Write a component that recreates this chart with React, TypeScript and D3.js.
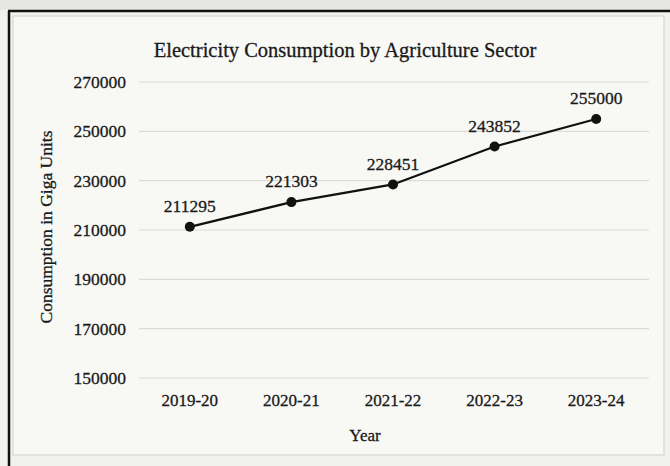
import React from "react";
import * as d3 from "d3";

const years = ["2019-20", "2020-21", "2021-22", "2022-23", "2023-24"];
const consumption = [211295, 221303, 228451, 243852, 255000];
const yTicks = [150000, 170000, 190000, 210000, 230000, 250000, 270000];

const W = 670;
const H = 466;
const font = "'Liberation Serif', 'Times New Roman', serif";
const ink = { fill: "#1a1a1a", stroke: "#1a1a1a", strokeWidth: 0.3 };

export default function App() {
  const x = d3.scaleBand<string>().domain(years).range([139, 647]);
  const y = d3.scaleLinear().domain([150000, 270000]).range([378, 82]);
  const line = d3
    .line<number>()
    .x((_, i) => (x(years[i]) as number) + x.bandwidth() / 2)
    .y((d) => y(d));

  return (
    <svg
      width={W}
      height={H}
      style={{ position: "absolute", left: 0, top: 0, display: "block" }}
    >
      <rect x={0} y={0} width={W} height={H} fill="#f1f1ed" />
      <rect x={0} y={0} width={W} height={10} fill="#e6e6e2" />
      <rect x={13} y={16} width={651} height={439} fill="#f8f8f5" stroke="#dcdcd8" strokeWidth={1.5} />
      <line x1={8} y1={11} x2={W} y2={11} stroke="#111" strokeWidth={2.5} />
      <line x1={9} y1={11} x2={9} y2={H} stroke="#111" strokeWidth={2.5} />

      <text
        x={345}
        y={50}
        dy="0.35em"
        textAnchor="middle"
        fontFamily={font}
        fontSize={20.5}
        {...ink}
      >
        Electricity Consumption by Agriculture Sector
      </text>

      {yTicks.map((t) => (
        <g key={t}>
          <line x1={139} x2={649} y1={y(t)} y2={y(t)} stroke="#dadad6" strokeWidth={1.2} />
          <text
            x={126}
            y={y(t)}
            dy="0.35em"
            textAnchor="end"
            fontFamily={font}
            fontSize={17.5}
            {...ink}
          >
            {t}
          </text>
        </g>
      ))}

      <text
        transform={`translate(46,227) rotate(-90)`}
        textAnchor="middle"
        dy="0.35em"
        fontFamily={font}
        fontSize={17.5}
        {...ink}
      >
        Consumption in Giga Units
      </text>

      {years.map((yr) => (
        <text
          key={yr}
          x={(x(yr) as number) + x.bandwidth() / 2}
          y={400}
          dy="0.35em"
          textAnchor="middle"
          fontFamily={font}
          fontSize={17}
          {...ink}
        >
          {yr}
        </text>
      ))}

      <text x={365} y={435} dy="0.35em" textAnchor="middle" fontFamily={font} fontSize={17} {...ink}>
        Year
      </text>

      <path d={line(consumption) || ""} fill="none" stroke="#111" strokeWidth={2.3} />
      {consumption.map((v, i) => {
        const cx = (x(years[i]) as number) + x.bandwidth() / 2;
        return (
          <g key={i}>
            <circle cx={cx} cy={y(v)} r={5} fill="#111" />
            <text
              x={cx}
              y={y(v) - 21}
              dy="0.35em"
              textAnchor="middle"
              fontFamily={font}
              fontSize={17.5}
              {...ink}
            >
              {v}
            </text>
          </g>
        );
      })}
    </svg>
  );
}
